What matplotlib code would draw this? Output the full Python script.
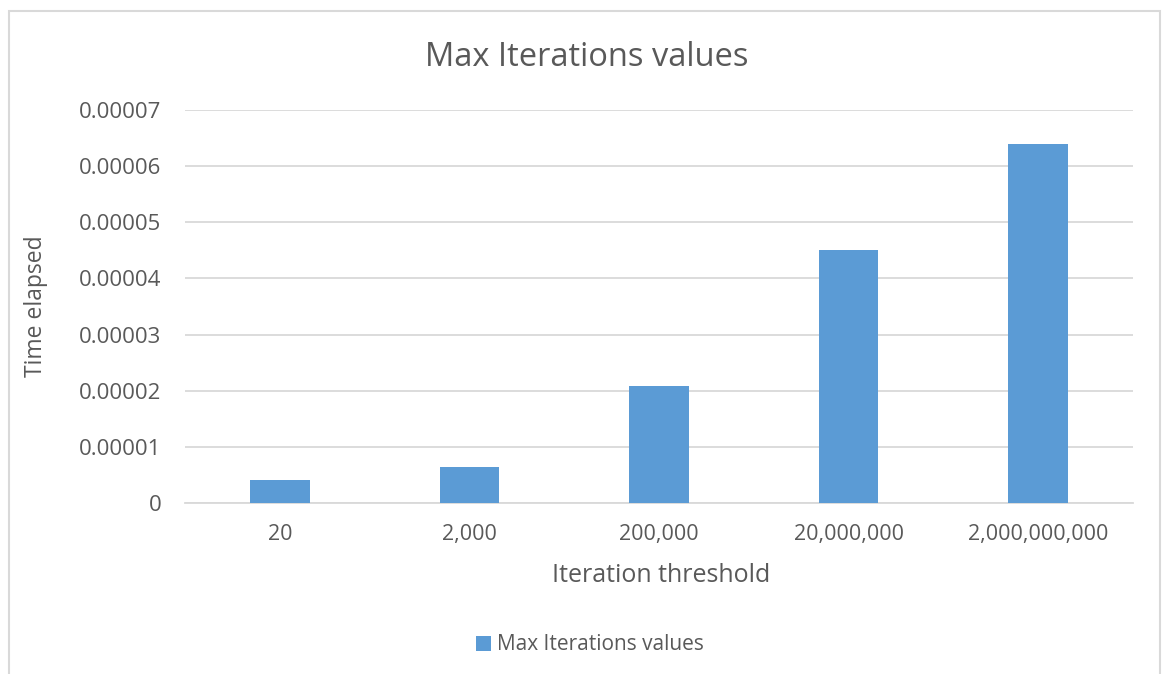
import matplotlib
matplotlib.use("Agg")
import matplotlib.pyplot as plt
from matplotlib.patches import Rectangle

categories = ["20", "2,000", "200,000", "20,000,000", "2,000,000,000"]
times = [0.0000041, 0.0000064, 0.0000209, 0.0000450, 0.0000640]
y_ticks = [0, 0.00001, 0.00002, 0.00003, 0.00004, 0.00005, 0.00006, 0.00007]
y_tick_labels = ["0", "0.00001", "0.00002", "0.00003", "0.00004", "0.00005", "0.00006", "0.00007"]
series_name = "Max Iterations values"

BAR = "#5B9BD5"
TEXT = "#595959"
GRID = "#D9D9D9"

plt.rcParams["font.family"] = ["Open Sans", "DejaVu Sans"]

W, H = 1162, 674
fig = plt.figure(figsize=(W / 100, H / 100), dpi=100)
fig.patch.set_facecolor("white")

# chart frame
fig.add_artist(Rectangle((9 / W, -0.01), (1160 - 9) / W, 1 - 11 / H + 0.01,
                         transform=fig.transFigure, fill=False, edgecolor=GRID, lw=1.5))

ax = fig.add_axes([185 / W, 1 - 503 / H, (1133 - 185) / W, (503 - 110) / H])
x = range(len(categories))
ax.bar(x, times, width=0.315, color=BAR, label=series_name, zorder=3)

ax.set_xlim(-0.5, len(categories) - 0.5)
ax.set_ylim(0, 0.00007)
ax.set_yticks(y_ticks)
ax.set_yticklabels(y_tick_labels)
ax.set_xticks(list(x))
ax.set_xticklabels(categories)
ax.grid(axis="y", color=GRID, lw=1.3, zorder=0)
for s in ["top", "right", "left"]:
    ax.spines[s].set_visible(False)
ax.spines["bottom"].set_color(GRID)
ax.spines["bottom"].set_linewidth(1.3)
ax.tick_params(axis="both", length=0, colors=TEXT)
ax.tick_params(axis="y", labelsize=16, pad=17)
ax.tick_params(axis="x", labelsize=15.5, pad=15)

fig.text(587 / W, 1 - 57 / H, series_name, color=TEXT, fontsize=23.5,
         ha="center", va="center")
fig.text(661 / W, 1 - 575 / H, "Iteration threshold", color=TEXT, fontsize=18,
         ha="center", va="center")
fig.text(36 / W, 1 - 306 / H, "Time elapsed", color=TEXT, fontsize=16.5,
         ha="center", va="center", rotation=90)

leg = fig.legend(loc="center", bbox_to_anchor=(590 / W, 1 - 645 / H), frameon=False,
                 fontsize=15, handlelength=0.75, handleheight=0.75, handletextpad=0.3)
for t in leg.get_texts():
    t.set_color(TEXT)

fig.savefig("out.png", dpi=100, facecolor="white")
